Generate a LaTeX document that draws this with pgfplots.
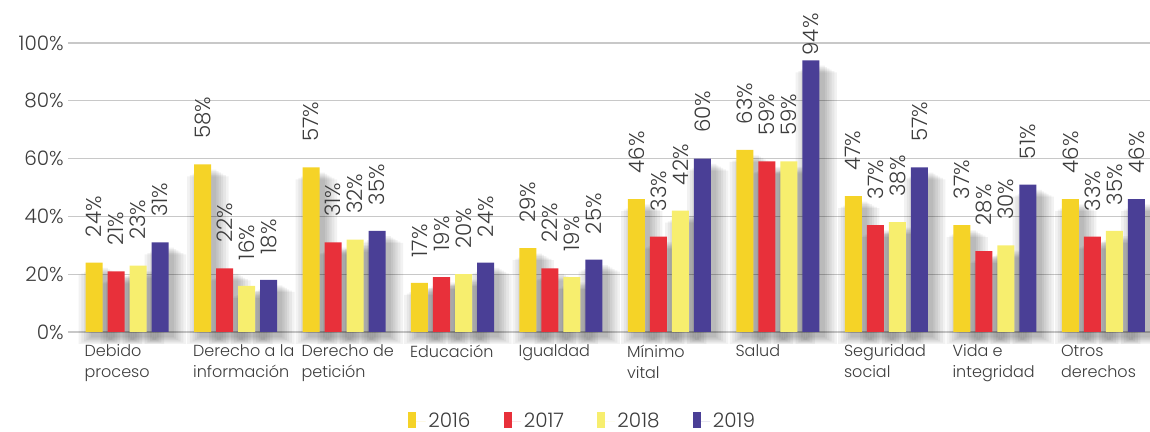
\documentclass[border=0pt]{standalone}
\usepackage{fontspec}
\setmainfont{Poppins}[UprightFont={* Light}]
\usepackage{pgfplots}
\usepackage{pgfplotstable}
\pgfplotsset{compat=1.18}
\definecolor{c16}{HTML}{F5D327}
\definecolor{c17}{HTML}{E8303A}
\definecolor{c18}{HTML}{F7EE6E}
\definecolor{c19}{HTML}{4A3F96}
\definecolor{txt}{HTML}{3C3C3C}
\definecolor{gridc}{HTML}{C8C8C8}
\pgfplotstableread{
x a b c d od
0 24 21 23 31 19
1 58 22 16 18 19
2 57 31 32 35 19
3 17 19 20 24 19
4 29 22 19 25 19
5 46 33 42 60 19
6 63 59 59 94 3.5
7 47 37 38 57 19
8 37 28 30 51 19
9 46 33 35 46 19
}\data
\begin{document}
\begin{tikzpicture}
\path[use as bounding box] (0,0) rectangle (862.5pt,324pt);
\begin{axis}[
  at={(51pt,75pt)}, anchor=south west,
  scale only axis, width=811.5pt, height=216.75pt,
  xmin=-0.544, xmax=9.429, ymin=0, ymax=100,
  axis line style={draw=none}, tick style={draw=none},
  ymajorgrids, grid style={color=gridc, line width=0.9pt},
  ytick={0,20,40,60,80,100},
  yticklabels={0\%,20\%,40\%,60\%,80\%,100\%},
  yticklabel style={anchor=east, inner sep=0pt, xshift=-3pt, font=\fontsize{15}{17}\selectfont, text=txt},
  xtick={0,...,9},
  xticklabels={{Debido\\proceso},{Derecho a la\\información},{Derecho de\\petición},{Educación},{Igualdad},{Mínimo\\vital},{Salud},{Seguridad\\social},{Vida e\\integridad},{Otros\\derechos}},
  xticklabel style={align=left, anchor=north west, inner sep=0pt, xshift=-32pt, yshift=-9.5pt, font=\fontsize{12}{15.75}\selectfont, text=txt},
  clip=false,
  legend image code/.code={\fill[#1] (0pt,-5pt) rectangle (6pt,7pt); \path (0pt,0pt) -- (13pt,0pt);},
  legend columns=4,
  legend style={draw=none, fill=none, at={(0.476,-0.308)}, anchor=center, font=\fontsize{15}{17}\selectfont, text=txt,
    /tikz/every even column/.append style={column sep=23pt}},
  lbl/.style={nodes near coords={\pgfmathprintnumber[assume math mode=true]{\pgfplotspointmeta}\%},
    every node near coord/.append style={xshift=#1, rotate=90, anchor=west, inner xsep=19pt, inner ysep=0pt, font=\fontsize{16}{18}\selectfont, text=txt}},
  sh/.style={ybar, forget plot, draw=none, fill=black, fill opacity=0.05},
]
\addlegendimage{fill=c16, draw=none}
\addlegendimage{fill=c17, draw=none}
\addlegendimage{fill=c18, draw=none}
\addlegendimage{fill=c19, draw=none}
% shadows
\addplot[sh, yshift=-4pt, bar width=12.75pt, bar shift=-20.75pt] table[x=x,y=a] {\data};
\addplot[sh, yshift=-4pt, bar width=12.75pt, bar shift=-4.25pt] table[x=x,y=b] {\data};
\addplot[sh, yshift=-4pt, bar width=12.75pt, bar shift=12.25pt] table[x=x,y=c] {\data};
\addplot[sh, yshift=-4pt, bar width=12.75pt, bar shift=28.75pt] table[x=x,y=d] {\data};
\addplot[sh, yshift=-5pt, bar width=16pt, bar shift=-20.75pt] table[x=x,y=a] {\data};
\addplot[sh, yshift=-5pt, bar width=16pt, bar shift=-4.25pt] table[x=x,y=b] {\data};
\addplot[sh, yshift=-5pt, bar width=16pt, bar shift=12.25pt] table[x=x,y=c] {\data};
\addplot[sh, yshift=-5pt, bar width=16pt, bar shift=28.75pt] table[x=x,y=d] {\data};
\addplot[sh, yshift=-6pt, bar width=19.5pt, bar shift=-20.75pt] table[x=x,y=a] {\data};
\addplot[sh, yshift=-6pt, bar width=19.5pt, bar shift=-4.25pt] table[x=x,y=b] {\data};
\addplot[sh, yshift=-6pt, bar width=19.5pt, bar shift=12.25pt] table[x=x,y=c] {\data};
\addplot[sh, yshift=-6pt, bar width=19.5pt, bar shift=28.75pt] table[x=x,y=d] {\data};
\addplot[sh, yshift=-7pt, bar width=23pt, bar shift=-20.75pt] table[x=x,y=a] {\data};
\addplot[sh, yshift=-7pt, bar width=23pt, bar shift=-4.25pt] table[x=x,y=b] {\data};
\addplot[sh, yshift=-7pt, bar width=23pt, bar shift=12.25pt] table[x=x,y=c] {\data};
\addplot[sh, yshift=-7pt, bar width=23pt, bar shift=28.75pt] table[x=x,y=d] {\data};
\addplot[sh, yshift=-8pt, bar width=27pt, bar shift=-20.75pt] table[x=x,y=a] {\data};
\addplot[sh, yshift=-8pt, bar width=27pt, bar shift=-4.25pt] table[x=x,y=b] {\data};
\addplot[sh, yshift=-8pt, bar width=27pt, bar shift=12.25pt] table[x=x,y=c] {\data};
\addplot[sh, yshift=-8pt, bar width=27pt, bar shift=28.75pt] table[x=x,y=d] {\data};
\addplot[sh, yshift=-9pt, bar width=31pt, bar shift=-20.75pt] table[x=x,y=a] {\data};
\addplot[sh, yshift=-9pt, bar width=31pt, bar shift=-4.25pt] table[x=x,y=b] {\data};
\addplot[sh, yshift=-9pt, bar width=31pt, bar shift=12.25pt] table[x=x,y=c] {\data};
\addplot[sh, yshift=-9pt, bar width=31pt, bar shift=28.75pt] table[x=x,y=d] {\data};
% bars
\addplot[ybar, forget plot, bar width=12.75pt, bar shift=-24.75pt, fill=c16, draw=none, lbl=-24.75pt] table[x=x,y=a] {\data};
\addplot[ybar, forget plot, bar width=12.75pt, bar shift=-8.25pt, fill=c17, draw=none, lbl=-8.25pt] table[x=x,y=b] {\data};
\addplot[ybar, forget plot, bar width=12.75pt, bar shift=8.25pt, fill=c18, draw=none, lbl=8.25pt] table[x=x,y=c] {\data};
\addplot[ybar, forget plot, bar width=12.75pt, bar shift=24.75pt, fill=c19, draw=none, lbl=24.75pt,
  visualization depends on={\thisrow{od} \as \off},
  every node near coord/.append style={inner xsep=\off pt}] table[x=x,y=d] {\data};
\legend{2016,2017,2018,2019}
\end{axis}
\end{tikzpicture}
\end{document}
